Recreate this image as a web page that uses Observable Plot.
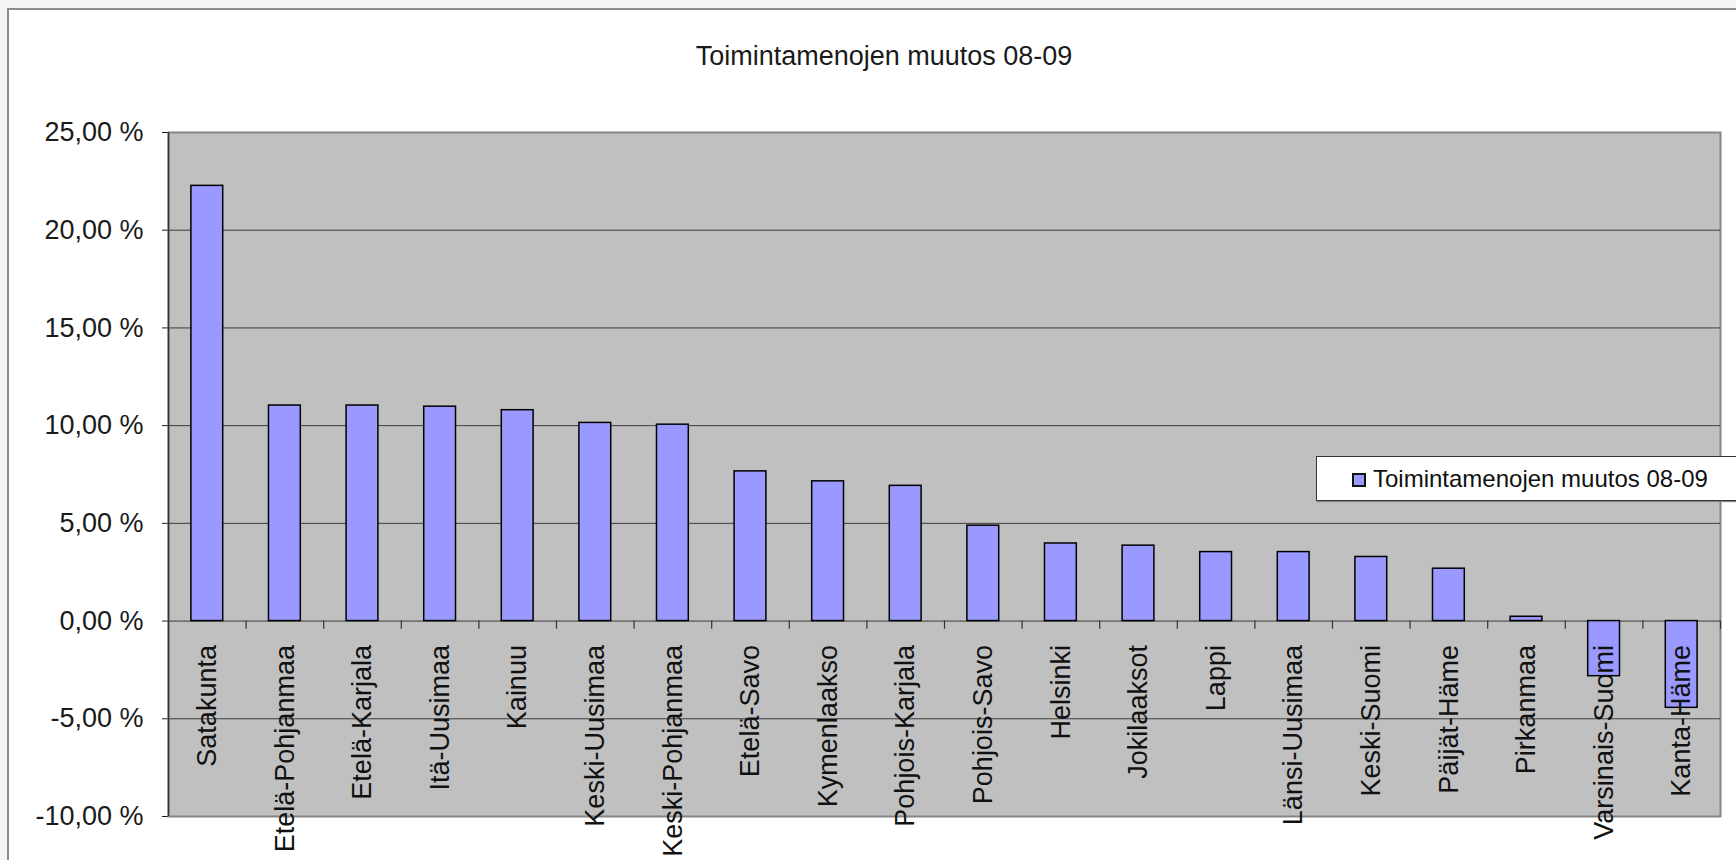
<!DOCTYPE html>
<html>
<head>
<meta charset="utf-8">
<script src="https://cdn.jsdelivr.net/npm/d3@7"></script>
<script src="https://cdn.jsdelivr.net/npm/@observablehq/plot@0.6"></script>
<style>
  html, body { margin: 0; padding: 0; width: 1736px; height: 860px; overflow: hidden; background: #f4f4f4; font-family: "Liberation Sans", Arial, sans-serif; }
  #frame { position: absolute; left: 7px; top: 8px; width: 1800px; height: 900px; background: #fff; border-left: 2px solid #8c8c8c; border-top: 2px solid #8c8c8c; }
  #title { position: absolute; left: 0; width: 1768px; top: 43px; text-align: center; font-size: 27px; line-height: 27px; color: #1a1a1a; white-space: nowrap; }
  #chart { position: absolute; left: 0; top: 0; }
  #legend { position: absolute; left: 1316px; top: 456px; width: 460px; height: 43px; background: #fff; border: 1px solid #333; box-shadow: 1px 1px 1px #888; }
  #swatch { position: absolute; left: 1352px; top: 473px; width: 10px; height: 10px; background: #9999ff; border: 2px solid #111; }
  #legendText { position: absolute; left: 1373px; top: 467px; font-size: 24px; line-height: 24px; color: #111; white-space: nowrap; }
</style>
</head>
<body>
<div id="frame"></div>
<div id="title"></div>
<div id="chart"></div>
<div id="legend"></div>
<div id="swatch"></div>
<div id="legendText"></div>
<script>
const chartTitle = "Toimintamenojen muutos 08-09";
const seriesName = "Toimintamenojen muutos 08-09";
const categories = ["Satakunta","Etelä-Pohjanmaa","Etelä-Karjala","Itä-Uusimaa","Kainuu","Keski-Uusimaa","Keski-Pohjanmaa","Etelä-Savo","Kymenlaakso","Pohjois-Karjala","Pohjois-Savo","Helsinki","Jokilaaksot","Lappi","Länsi-Uusimaa","Keski-Suomi","Päijät-Häme","Pirkanmaa","Varsinais-Suomi","Kanta-Häme"];
const values = [22.27, 11.03, 11.03, 10.97, 10.79, 10.14, 10.05, 7.66, 7.15, 6.92, 4.88, 3.97, 3.86, 3.53, 3.53, 3.28, 2.68, 0.22, -2.82, -4.44];
const yTicks = [-10, -5, 0, 5, 10, 15, 20, 25];

const data = categories.map((c, i) => ({region: c, change: values[i]}));
const fmt = d => d.toFixed(2).replace(".", ",") + " %";
const gridValues = yTicks.filter(v => v > yTicks[0] && v < yTicks[yTicks.length - 1]);

const W = 1736, H = 860, mL = 168, mR = 16, mT = 132, mB = 44;
const step = (W - mL - mR) / categories.length;
const tickLen = 0.42;

document.getElementById("title").textContent = chartTitle;
document.getElementById("legendText").textContent = seriesName;

const chart = Plot.plot({
  width: W, height: H,
  marginLeft: mL, marginRight: mR, marginTop: mT, marginBottom: mB,
  style: {background: "transparent", fontFamily: "'Liberation Sans', Arial, sans-serif", fontSize: "27px", color: "#1a1a1a", overflow: "visible"},
  x: {domain: categories, paddingInner: 0.59, paddingOuter: 0.295, round: false, axis: null},
  y: {domain: [yTicks[0], yTicks[yTicks.length - 1]], ticks: yTicks, tickFormat: fmt, tickSize: 6, tickPadding: 19, label: null},
  marks: [
    Plot.frame({fill: "#c0c0c0", stroke: "#858585", strokeWidth: 2}),
    Plot.ruleY(gridValues, {stroke: "#3c3c3c", strokeWidth: 1}),
    Plot.barY(data, {x: "region", y: "change", fill: "#9999ff", stroke: "#000", strokeWidth: 1.5}),
    Plot.ruleX(categories, {x: d => d, dx: step / 2, y1: 0, y2: -tickLen, stroke: "#333", strokeWidth: 1.2}),
    Plot.ruleX([categories[0]], {x: d => d, dx: -step / 2, y1: yTicks[0], y2: yTicks[yTicks.length - 1], stroke: "#333", strokeWidth: 1.5}),
    Plot.text(categories, {x: d => d, y: 0, text: d => d, rotate: -90, textAnchor: "end", dy: 24, fill: "#111"})
  ]
});
document.getElementById("chart").appendChild(chart);
</script>
</body>
</html>
